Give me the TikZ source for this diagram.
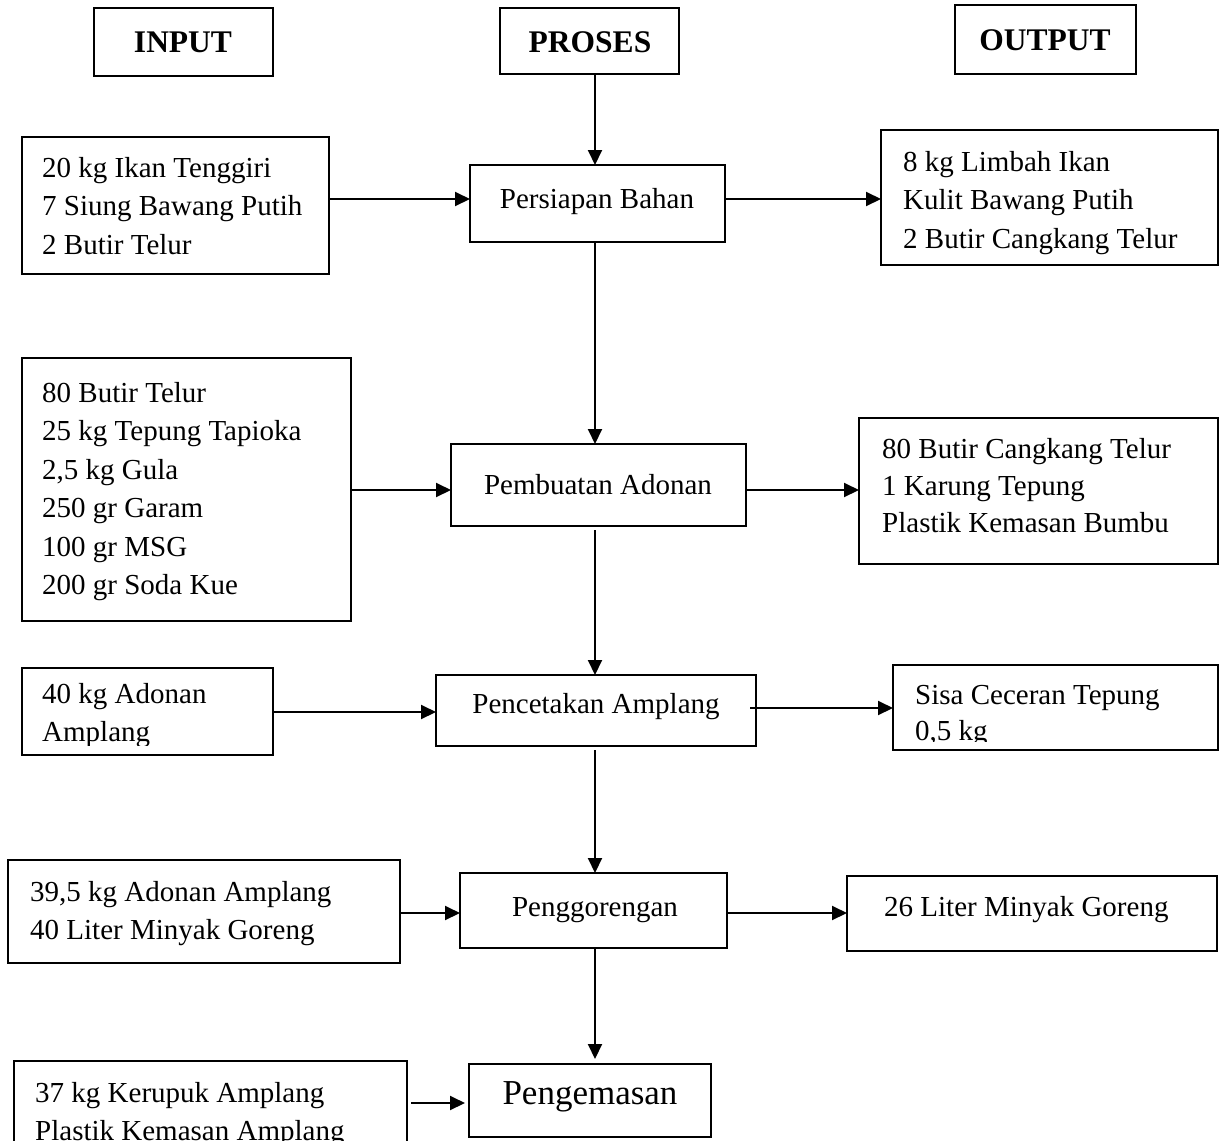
\documentclass[tikz,border=0pt]{standalone}
\usepackage{fontspec}
\setmainfont{Liberation Serif}
\usetikzlibrary{arrows.meta}
\tikzset{
  box/.style={draw, line width=2pt, anchor=north west, inner sep=0pt, outer sep=0pt},
  txt/.style={anchor=north west, inner sep=0pt, align=left, font=\fontsize{29}{38.5}\selectfont},
  ptxt/.style={inner sep=0pt, font=\fontsize{29}{35}\selectfont},
  htxt/.style={inner sep=0pt, font=\fontsize{31.5}{36}\selectfont\bfseries},
  arr/.style={line width=2pt, -{Triangle[length=15pt,width=14pt]}}
}
\begin{document}
\begin{tikzpicture}[x=1pt,y=-1pt]
\useasboundingbox (0,0) rectangle (1219,1141);
\clip (0,0) rectangle (1219,1141);
% headers
\node[box, minimum width=179pt, minimum height=68pt] (hIn) at (94,8) {};
\node[htxt] (hInT) at (183,42) {INPUT};
\node[box, minimum width=179pt, minimum height=66pt] (hPr) at (500,8) {};
\node[htxt] (hPrT) at (590,42) {PROSES};
\node[box, minimum width=181pt, minimum height=69pt] (hOut) at (955,5) {};
\node[htxt] (hOutT) at (1045,40) {OUTPUT};
% row 1
\node[box, minimum width=307pt, minimum height=137pt] (in1) at (22,137) {};
\node[txt] (in1T) at (42,157) {20 kg Ikan Tenggiri\\7 Siung Bawang Putih\\2 Butir Telur};
\node[box, minimum width=255pt, minimum height=77pt] (p1) at (470,165) {};
\node[ptxt] (p1T) at (597,202) {Persiapan Bahan};
\node[box, minimum width=337pt, minimum height=135pt] (out1) at (881,130) {};
\node[txt] (out1T) at (903,151) {8 kg Limbah Ikan\\Kulit Bawang Putih\\2 Butir Cangkang Telur};
% row 2
\node[box, minimum width=329pt, minimum height=263pt] (in2) at (22,358) {};
\node[txt] (in2T) at (42,382) {80 Butir Telur\\25 kg Tepung Tapioka\\2,5 kg Gula\\250 gr Garam\\100 gr MSG\\200 gr Soda Kue};
\node[box, minimum width=295pt, minimum height=82pt] (p2) at (451,444) {};
\node[ptxt] (p2T) at (598,485) {Pembuatan Adonan};
\node[box, minimum width=359pt, minimum height=146pt] (out2) at (859,418) {};
\node[txt, font=\fontsize{29}{37}\selectfont] (out2T) at (882,438) {80 Butir Cangkang Telur\\1 Karung Tepung\\Plastik Kemasan Bumbu};
% row 3
\node[box, minimum width=251pt, minimum height=87pt] (in3) at (22,668) {};
\begin{scope}
\clip (22,668) rectangle (273,745);
\node[txt] (in3T) at (42,683) {40 kg Adonan\\Amplang};
\end{scope}
\node[box, minimum width=320pt, minimum height=71pt] (p3) at (436,675) {};
\node[ptxt] (p3T) at (596,707) {Pencetakan Amplang};
\node[box, minimum width=325pt, minimum height=85pt] (out3) at (893,665) {};
\begin{scope}
\clip (893,665) rectangle (1218,741);
\node[txt, font=\fontsize{29}{36}\selectfont] (out3T) at (915,685) {Sisa Ceceran Tepung\\0,5 kg};
\end{scope}
% row 4
\node[box, minimum width=392pt, minimum height=103pt] (in4) at (8,860) {};
\node[txt] (in4T) at (30,881) {39,5 kg Adonan Amplang\\40 Liter Minyak Goreng};
\node[box, minimum width=267pt, minimum height=75pt] (p4) at (460,873) {};
\node[ptxt] (p4T) at (595,910) {Penggorengan};
\node[box, minimum width=370pt, minimum height=75pt] (out4) at (847,876) {};
\node[txt] (out4T) at (884,896) {26 Liter Minyak Goreng};
% row 5
\node[box, minimum width=393pt, minimum height=95pt] (in5) at (14,1061) {};
\node[txt] (in5T) at (35,1082) {37 kg Kerupuk Amplang\\Plastik Kemasan Amplang};
\node[box, minimum width=242pt, minimum height=73pt] (p5) at (469,1064) {};
\node[ptxt, font=\fontsize{35}{40}\selectfont] (p5T) at (590,1097) {Pengemasan};
% connectors
\draw[arr] (hPr.south -| 595,0) -- (p1.north -| 595,0);
\draw[arr] (in1.east |- 0,199) -- (p1.west |- 0,199);
\draw[arr] (p1.east |- 0,199) -- (out1.west |- 0,199);
\draw[arr] (p1.south -| 595,0) -- (p2.north -| 595,0);
\draw[arr] (in2.east |- 0,490) -- (p2.west |- 0,490);
\draw[arr] (p2.east |- 0,490) -- (out2.west |- 0,490);
\draw[arr] ([yshift=-4pt]p2.south -| 595,0) -- (p3.north -| 595,0);
\draw[arr] (in3.east |- 0,712) -- (p3.west |- 0,712);
\draw[arr] ([xshift=-6pt]p3.east |- 0,708) -- (out3.west |- 0,708);
\draw[arr] ([yshift=-4pt]p3.south -| 595,0) -- (p4.north -| 595,0);
\draw[arr] (in4.east |- 0,913) -- (p4.west |- 0,913);
\draw[arr] (p4.south -| 595,0) -- ([yshift=5pt]p5.north -| 595,0);
\draw[arr] (p4.east |- 0,913) -- (out4.west |- 0,913);
\draw[arr] ([xshift=4pt]in5.east |- 0,1103) -- ([xshift=-4pt]p5.west |- 0,1103);
\end{tikzpicture}
\end{document}
